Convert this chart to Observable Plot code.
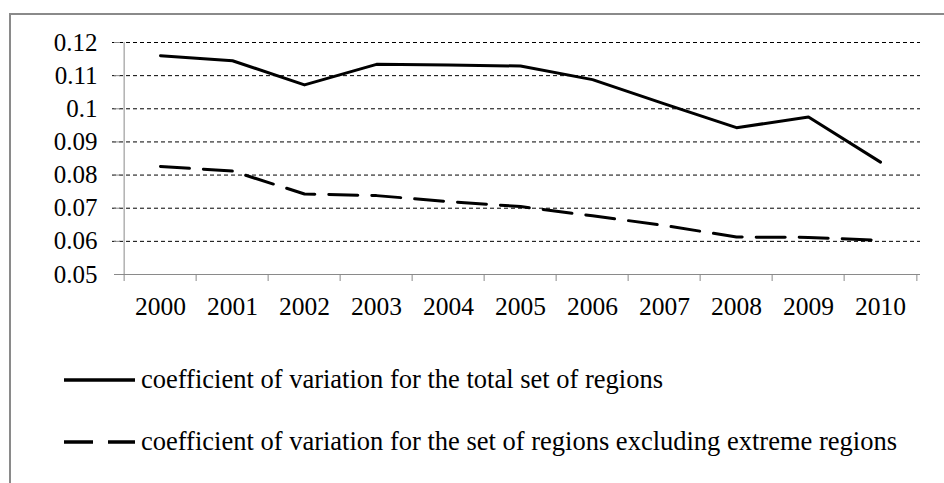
<!DOCTYPE html>
<html>
<head>
<meta charset="utf-8">
<script src="https://cdn.jsdelivr.net/npm/d3@7"></script>
<script src="https://cdn.jsdelivr.net/npm/@observablehq/plot@0.6"></script>
</head>
<body style="margin:0;padding:0;font-family:'Liberation Serif',Tinos,serif">
<div id="wrap" style="position:relative;width:944px;height:483px">
  <div style="position:absolute;left:9px;top:13px;width:935px;height:470px;border-left:2px solid #8a8a8a;border-top:2px solid #8a8a8a"></div>
  <div id="chart" style="position:absolute;left:0;top:0"></div>
  <svg id="sw1" style="position:absolute;left:64px;top:377px" width="71" height="6"></svg>
  <div id="lt1" style="position:absolute;left:141px;top:366px;font-family:'Liberation Serif',Tinos,serif;font-size:26.5px;line-height:26.5px;white-space:nowrap"></div>
  <svg id="sw2" style="position:absolute;left:64px;top:439px" width="71" height="6"></svg>
  <div id="lt2" style="position:absolute;left:141px;top:428px;font-family:'Liberation Serif',Tinos,serif;font-size:26.5px;line-height:26.5px;white-space:nowrap"></div>
</div>
<script>
const years = ["2000","2001","2002","2003","2004","2005","2006","2007","2008","2009","2010"];
const totalSet = [0.1160, 0.1145, 0.1072, 0.1134, 0.1132, 0.1129, 0.1088, 0.1015, 0.0943, 0.0975, 0.0839];
const excludingExtreme = [0.0826, 0.0812, 0.0743, 0.0738, 0.0720, 0.0705, 0.0677, 0.0648, 0.0613, 0.0612, 0.0603];
const yTicks = [0.05, 0.06, 0.07, 0.08, 0.09, 0.10, 0.11, 0.12];
const gridTicks = [0.06, 0.07, 0.08, 0.09, 0.10, 0.11, 0.12];
const seriesNames = [
  "coefficient of variation for the total set of regions",
  "coefficient of variation for the set of regions excluding extreme regions"
];

const W = 944, H = 330, mL = 120, mR = 24, mT = 42, mB = 56;
const bw = (W - mL - mR) / years.length;
const gray = "#8a8a8a";
const FONT = "Liberation Serif";
const fmt = d => String(+d.toFixed(2));

const rowsTotal = years.map((y, i) => ({year: y, v: totalSet[i]}));
const rowsExcl = years.map((y, i) => ({year: y, v: excludingExtreme[i]}));

const chart = Plot.plot({
  width: W, height: H,
  marginLeft: mL, marginRight: mR, marginTop: mT, marginBottom: mB,
  style: {fontFamily: FONT, fontSize: "25px", background: "transparent"},
  x: {type: "band", domain: years, padding: 0, axis: null, label: null},
  y: {domain: [0.05, 0.12], axis: null, label: null},
  marks: [
    Plot.ruleY(gridTicks, {stroke: "#000", strokeWidth: 1, strokeDasharray: "4,3", insetLeft: -8}),
    Plot.axisY({ticks: yTicks, tickSize: 6, tickPadding: 17, tickFormat: fmt, stroke: gray, fill: "#000", fontSize: 25, label: null}),
    Plot.ruleY([yTicks[0]], {stroke: gray, strokeWidth: 1}),
    Plot.ruleX([years[0]], {y1: yTicks[0], y2: yTicks[yTicks.length - 1], stroke: gray, strokeWidth: 1, dx: -bw / 2}),
    Plot.axisX({ticks: years, tickSize: 7, stroke: gray, tickFormat: () => "", dx: -bw / 2, label: null}),
    Plot.axisX({ticks: [years[years.length - 1]], tickSize: 7, stroke: gray, tickFormat: () => "", dx: bw / 2, label: null}),
    Plot.axisX({ticks: years, tickSize: 0, tickPadding: 22, fill: "#000", fontSize: 25.5, label: null}),
    Plot.line(rowsTotal, {x: "year", y: "v", stroke: "#000", strokeWidth: 3}),
    Plot.line(rowsExcl, {x: "year", y: "v", stroke: "#000", strokeWidth: 3, strokeDasharray: "29,14"})
  ]
});
document.getElementById("chart").appendChild(chart);

function swatch(id, dash) {
  const s = d3.select("#" + id);
  s.append("line").attr("x1", 0).attr("x2", 71).attr("y1", 3).attr("y2", 3)
    .attr("stroke", "#000").attr("stroke-width", 3.5)
    .attr("stroke-dasharray", dash);
}
swatch("sw1", null);
swatch("sw2", "29,15");
document.getElementById("lt1").textContent = seriesNames[0];
document.getElementById("lt2").textContent = seriesNames[1];
</script>
</body>
</html>
